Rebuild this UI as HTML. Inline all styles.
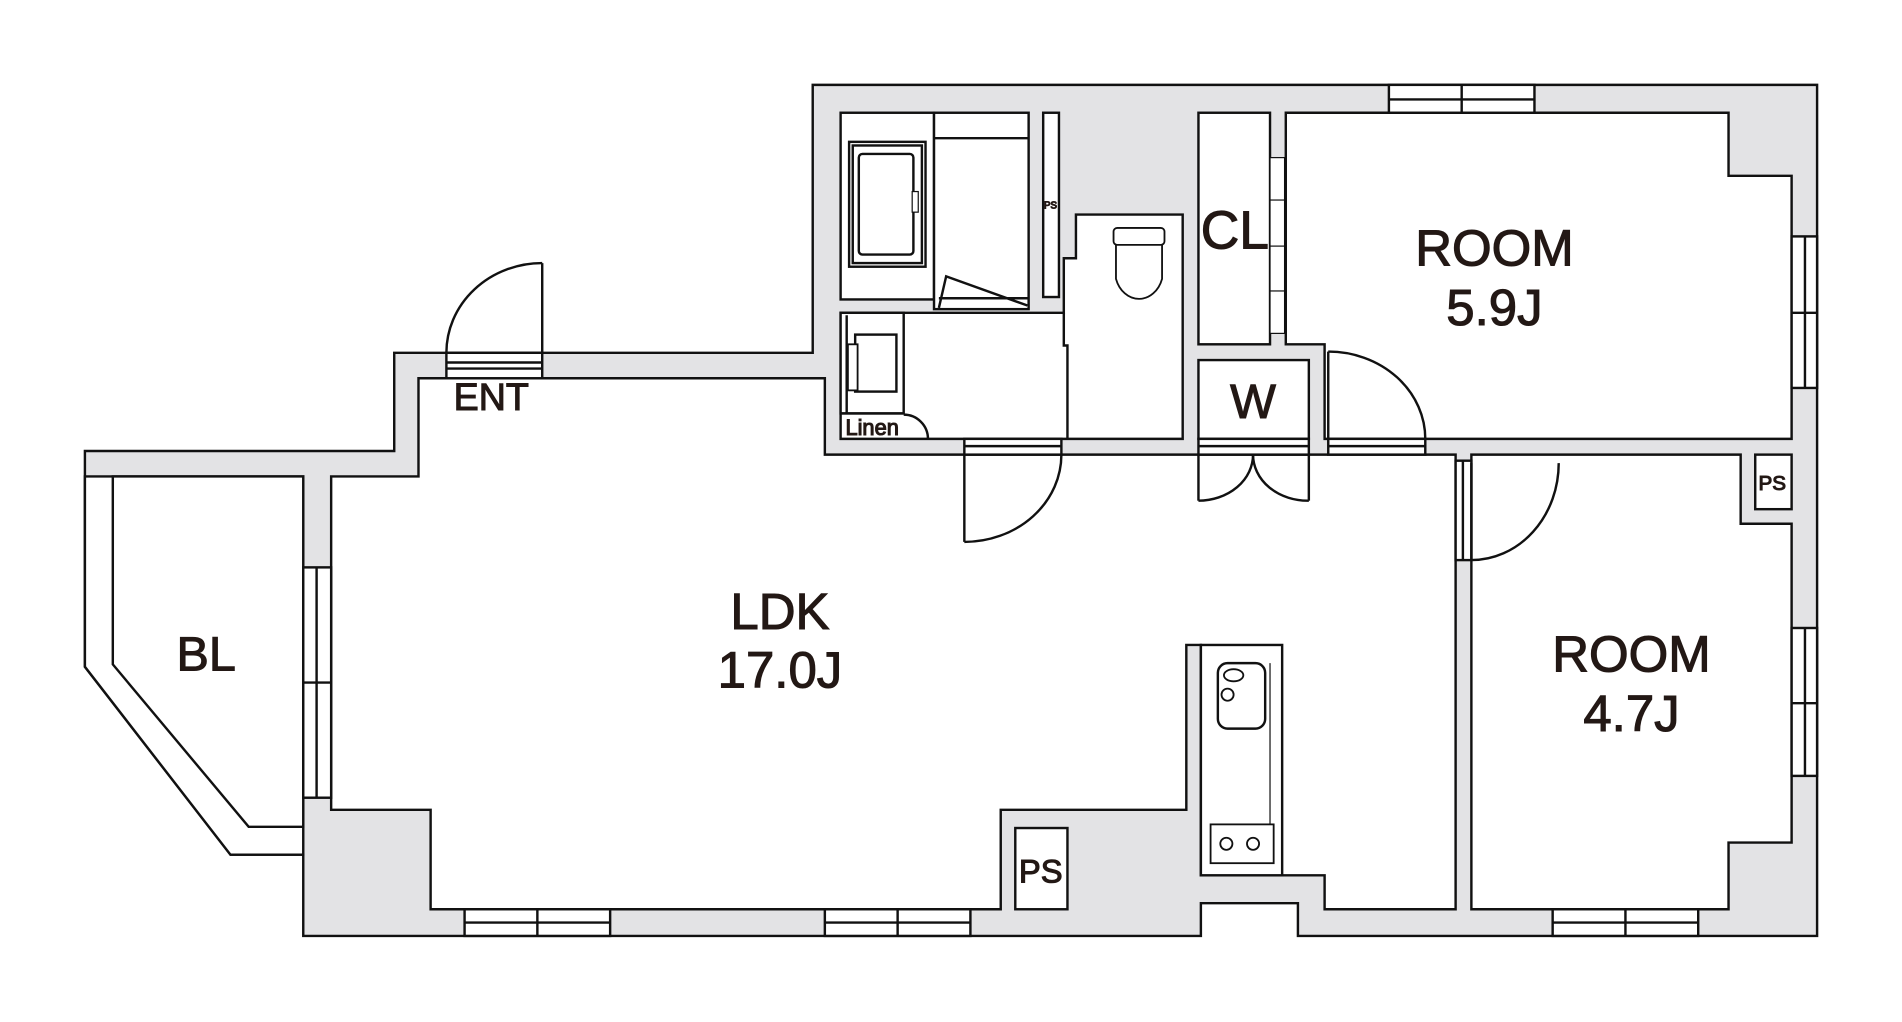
<!DOCTYPE html>
<html><head><meta charset="utf-8"><style>
html,body{margin:0;padding:0;background:#fff;}
svg{display:block}
text{font-family:"Liberation Sans",sans-serif;fill:#231815;text-anchor:middle;stroke:#231815;stroke-width:0.9}
</style></head><body>
<svg width="1902" height="1022" viewBox="0 0 1568 843" preserveAspectRatio="none" xmlns="http://www.w3.org/2000/svg">
<g stroke="#111" stroke-width="2" fill="#fff">
<polygon fill="#e3e3e5" points="670,70 1498,70 1498,772 1070,772 1070,745 990,745 990,772 250,772 250,705 190,705 70,550 70,372 325,372 325,291 670,291"/>
<polygon points="70,393 250,393 250,705 190,705 70,550"/>
<polygon points="93,393 250,393 250,682 205,682 93,548"/>
<polygon points="273,393 345,393 345,312 680,312 680,375 1200,375 1200,750 1092,750 1092,722 990,722 990,532 978,532 978,668 825,668 825,750 355,750 355,668 273,668"/>
<rect x="250" y="468" width="23" height="190"/>
<line x1="261" y1="468" x2="261" y2="658"/><line x1="250" y1="563" x2="273" y2="563"/>
<rect x="990" y="532" width="67" height="190"/>
<line x1="1047" y1="547" x2="1047" y2="712" stroke-width="1"/>
<rect x="1004" y="547" width="39" height="54" rx="8"/>
<ellipse cx="1017" cy="557" rx="8" ry="5" stroke-width="1.5"/>
<circle cx="1012" cy="573" r="5" stroke-width="1.5"/>
<rect x="998" y="680" width="52" height="32" stroke-width="1.5"/>
<circle cx="1011" cy="696" r="5" stroke-width="1.5"/><circle cx="1033" cy="696" r="5" stroke-width="1.5"/>
<rect x="837" y="683" width="43" height="67"/>
<rect x="693" y="93" width="77" height="154"/>
<rect x="700" y="117" width="63" height="103"/>
<rect x="703" y="120" width="57" height="97"/>
<rect x="708" y="127" width="45" height="83" rx="3"/>
<rect x="752" y="158" width="5" height="17" stroke-width="1"/>
<rect x="770" y="93" width="78" height="162"/>
<line x1="770" y1="114" x2="848" y2="114"/>
<polyline points="774,254 780,228 847,252" fill="none"/>
<line x1="774" y1="246" x2="848" y2="246"/>
<rect x="860" y="93" width="13" height="152"/>
<polygon points="693,258 877,258 877,213 887,213 887,177 975,177 975,362 693,362"/>
<polyline points="877,258 877,285 880,285 880,362" fill="none"/>
<rect x="693" y="258" width="52" height="83"/>
<line x1="698" y1="260" x2="698" y2="341"/>
<rect x="705" y="276" width="34" height="47"/>
<rect x="699" y="284" width="8" height="38" stroke-width="1.5"/>
<line x1="693" y1="341" x2="745" y2="341"/>
<path d="M745,342 A20,20 0 0 1 765,362" fill="none"/>
<rect x="918" y="188" width="42" height="14" rx="3" stroke-width="1.5"/>
<path d="M920,202 L920,230 A20,24 0 0 0 958,230 L958,202" fill="none" stroke-width="1.5"/>
<rect x="988" y="93" width="59" height="191"/>
<rect x="1047" y="130" width="12" height="145" stroke-width="1"/>
<line x1="1047" y1="165" x2="1059" y2="165" stroke-width="1"/><line x1="1047" y1="203" x2="1059" y2="203" stroke-width="1"/><line x1="1047" y1="240" x2="1059" y2="240" stroke-width="1"/>
<polyline points="1059,132 1082,140 1059,146" fill="none" stroke-width="1.5"/>
<polyline points="1059,258 1082,265 1059,272" fill="none" stroke-width="1.5"/>
<rect x="988" y="297" width="91" height="65"/>
<polygon points="1060,93 1425,93 1425,145 1477,145 1477,362 1092,362 1092,284 1060,284"/>
<polygon points="1213,375 1435,375 1435,432 1477,432 1477,695 1425,695 1425,750 1213,750"/>
<rect x="1447" y="375" width="30" height="45"/>
<rect x="1145" y="70" width="120" height="23"/><line x1="1145" y1="82" x2="1265" y2="82"/><line x1="1205" y1="70" x2="1205" y2="93"/>
<rect x="1477" y="195" width="21" height="125"/><line x1="1488" y1="195" x2="1488" y2="320"/><line x1="1477" y1="258" x2="1498" y2="258"/>
<rect x="1477" y="518" width="21" height="122"/><line x1="1488" y1="518" x2="1488" y2="640"/><line x1="1477" y1="580" x2="1498" y2="580"/>
<rect x="383" y="750" width="120" height="22"/><line x1="383" y1="761" x2="503" y2="761"/><line x1="443" y1="750" x2="443" y2="772"/>
<rect x="680" y="750" width="120" height="22"/><line x1="680" y1="761" x2="800" y2="761"/><line x1="740" y1="750" x2="740" y2="772"/>
<rect x="1280" y="750" width="120" height="22"/><line x1="1280" y1="761" x2="1400" y2="761"/><line x1="1340" y1="750" x2="1340" y2="772"/>
<rect x="368" y="291" width="79" height="21"/><line x1="368" y1="299" x2="447" y2="299"/><line x1="368" y1="304" x2="447" y2="304"/>
<rect x="795" y="362" width="80" height="13"/><line x1="795" y1="368" x2="875" y2="368"/>
<rect x="988" y="362" width="91" height="13"/><line x1="988" y1="368" x2="1079" y2="368"/>
<rect x="1095" y="362" width="80" height="13"/><line x1="1095" y1="368" x2="1175" y2="368"/>
<rect x="1200" y="380" width="13" height="82"/><line x1="1206" y1="380" x2="1206" y2="462"/>
</g>
<g stroke="#111" stroke-width="2" fill="none">
<line x1="447" y1="291" x2="447" y2="217"/><path d="M447,217 A79,74 0 0 0 368,291"/>
<line x1="795" y1="375" x2="795" y2="447"/><path d="M875,375 A80,72 0 0 1 795,447"/>
<line x1="988" y1="375" x2="988" y2="413"/><path d="M1033,375 A45,38 0 0 1 988,413"/>
<line x1="1079" y1="375" x2="1079" y2="413"/><path d="M1033,375 A45,38 0 0 0 1079,413"/>
<line x1="1095" y1="362" x2="1095" y2="290"/><path d="M1095,290 A80,72 0 0 1 1175,362"/>
<line x1="1213" y1="462" x2="1213" y2="382"/><path d="M1285,382 A72,80 0 0 1 1213,462"/>
</g>
<text x="405" y="338" font-size="31">ENT</text>
<text x="1018" y="205" font-size="44">CL</text>
<text x="1232" y="219" font-size="42">ROOM</text>
<text x="1232" y="268" font-size="42">5.9J</text>
<text x="1033" y="345" font-size="40">W</text>
<text x="643" y="519" font-size="42">LDK</text>
<text x="643" y="567" font-size="42">17.0J</text>
<text x="170" y="553" font-size="40">BL</text>
<text x="1345" y="554" font-size="42">ROOM</text>
<text x="1345" y="603" font-size="42">4.7J</text>
<text x="858" y="728" font-size="27">PS</text>
<text x="1461" y="404" font-size="17">PS</text>
<text x="866" y="172" font-size="8" stroke-width="0">PS</text>
<text x="719" y="359" font-size="18" stroke-width="0.3">Linen</text>
</svg>
</body></html>
